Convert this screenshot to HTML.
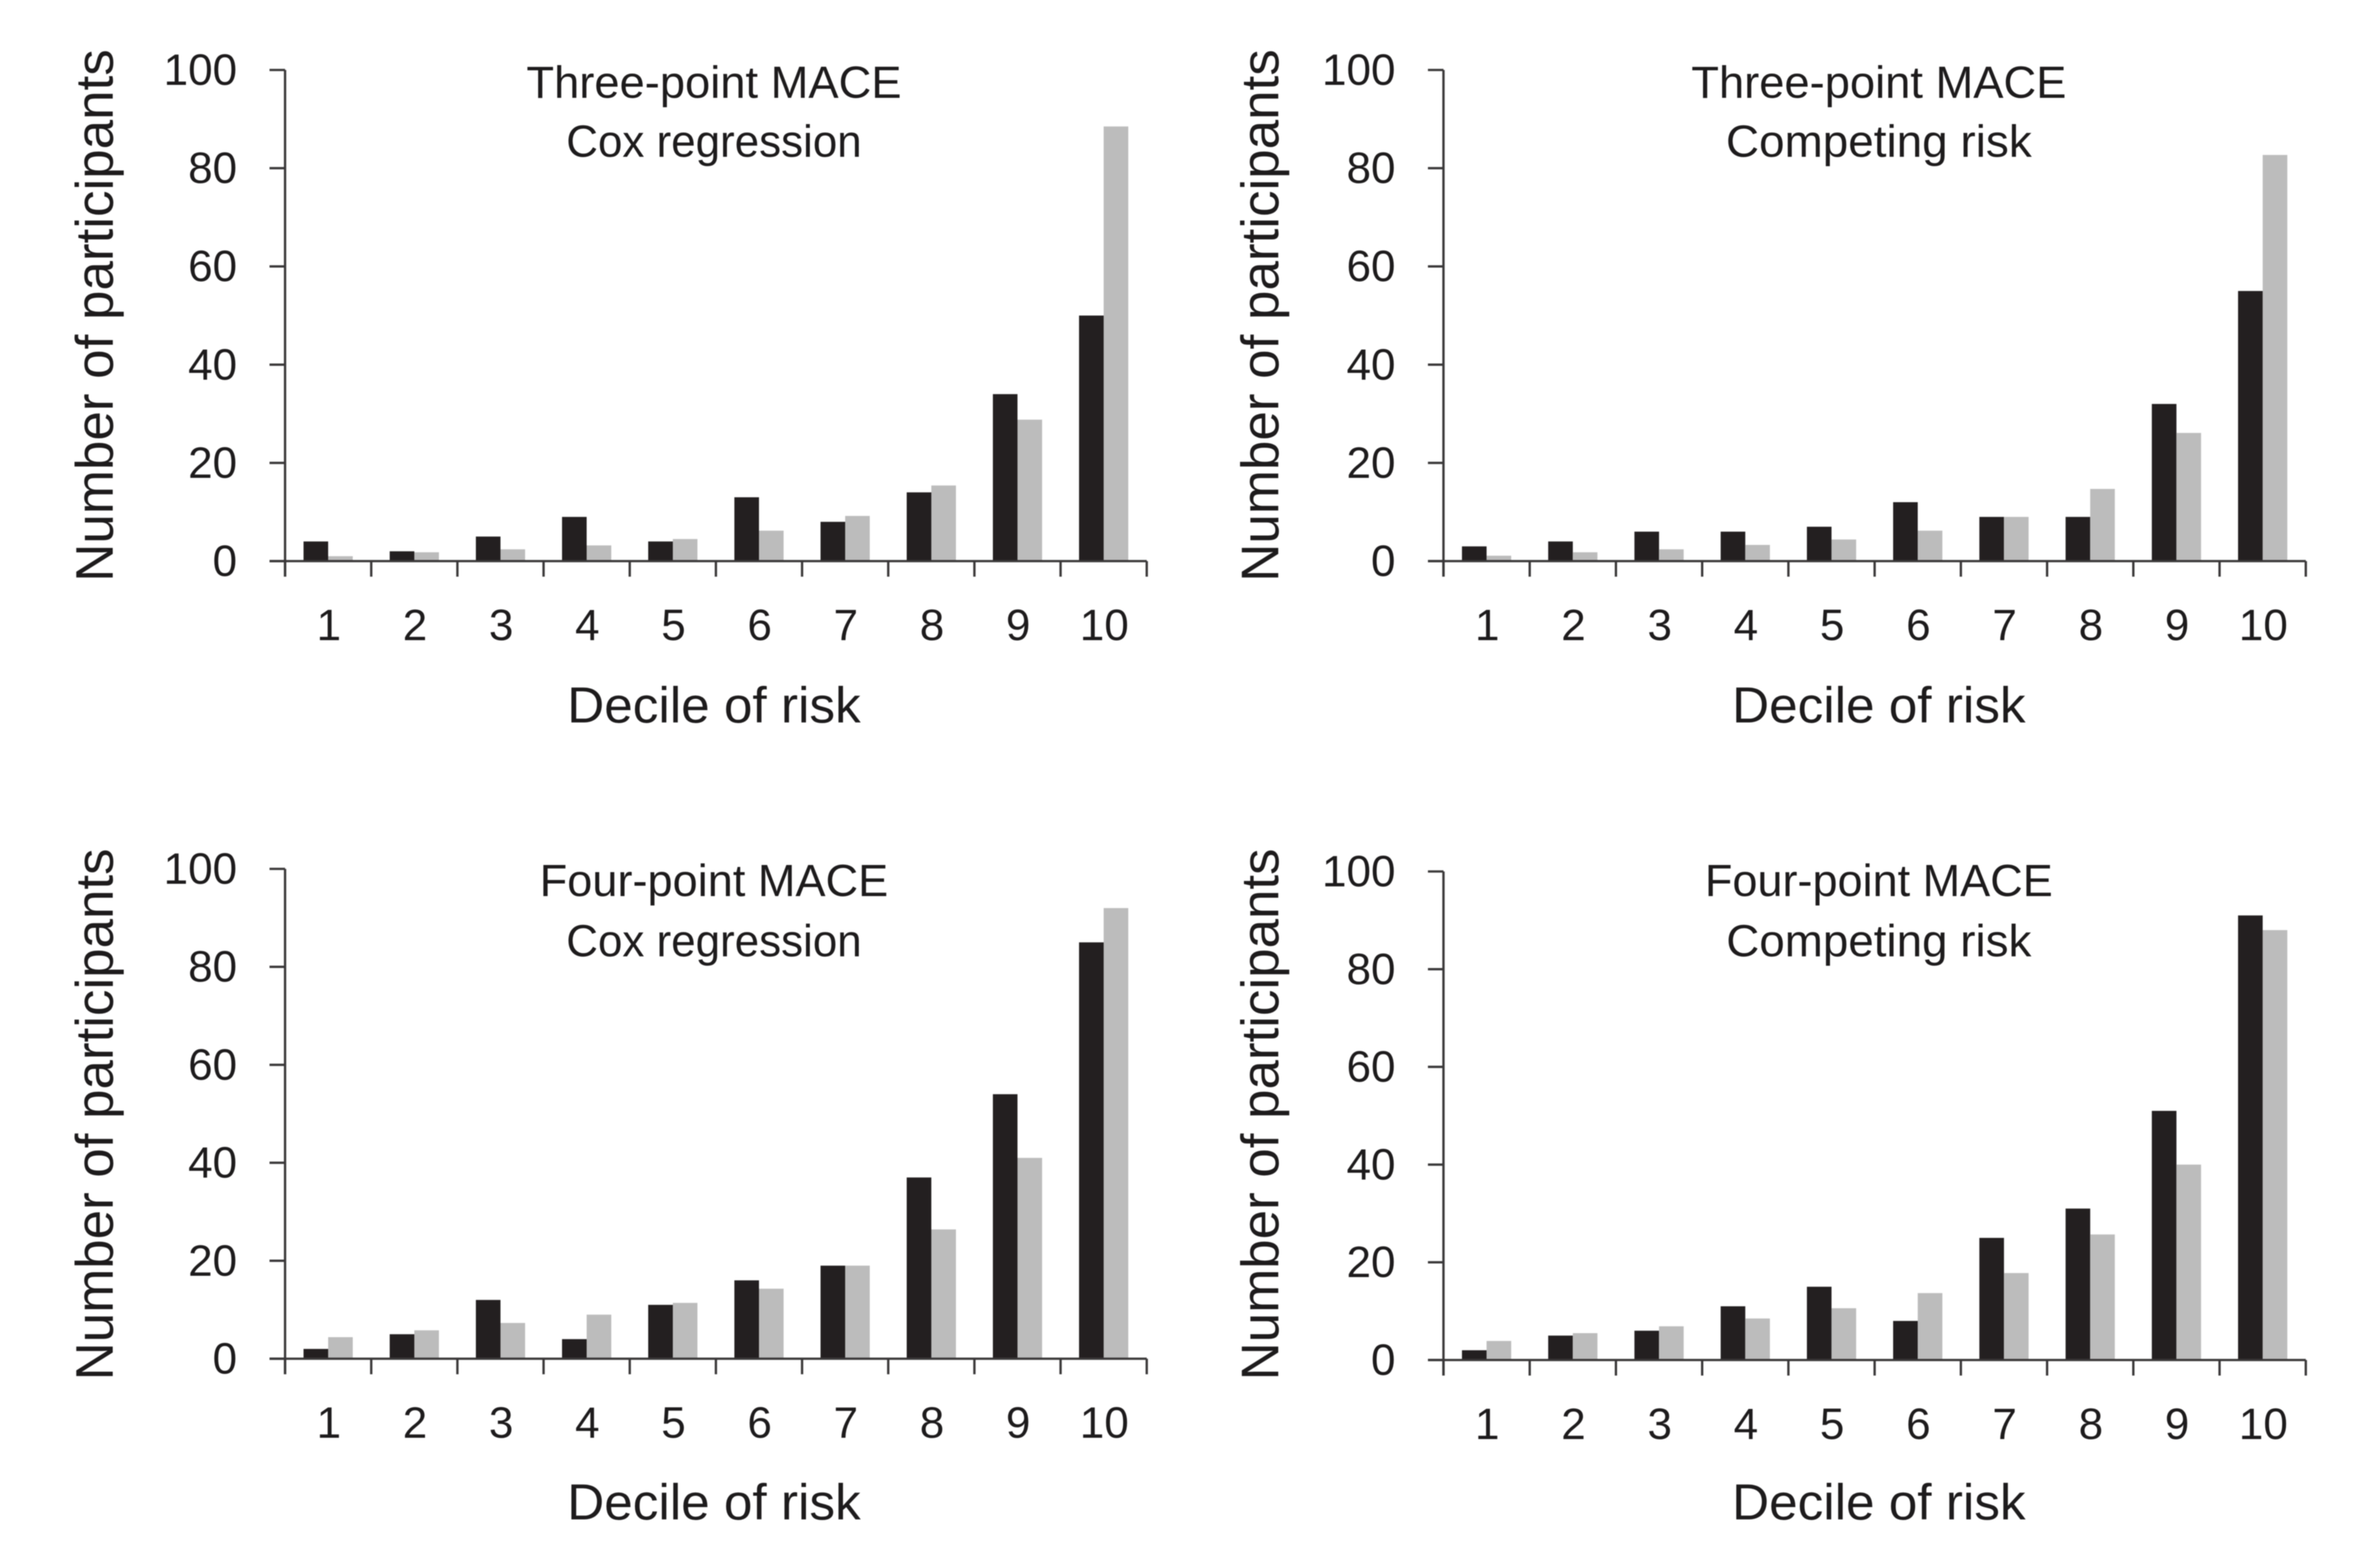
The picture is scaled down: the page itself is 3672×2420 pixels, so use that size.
<!DOCTYPE html>
<html lang="en">
<head>
<meta charset="utf-8">
<title>Participants by decile of risk</title>
<style>
html,body{margin:0;padding:0;background:#fff;width:3672px;height:2420px;overflow:hidden}
svg{display:block;filter:blur(0.8px)}
text{font-family:"Liberation Sans",sans-serif;fill:#1d1b1c}
</style>
</head>
<body>
<svg id="chart" xmlns="http://www.w3.org/2000/svg" width="3672" height="2420" viewBox="0 0 3672 2420"></svg>
<script>
const categories = ['1','2','3','4','5','6','7','8','9','10'];
const yTickValues = [0,20,40,60,80,100];
const threeCoxObserved = [4,2,5,9,4,13,8,14,34,50];
const threeCoxPredicted = [1,1.8,2.4,3.2,4.5,6.2,9.2,15.4,28.8,88.5];
const threeCompObserved = [3,4,6,6,7,12,9,9,32,55];
const threeCompPredicted = [1.1,1.8,2.4,3.3,4.4,6.2,9,14.7,26.1,82.7];
const fourCoxObserved = [2,5,12,4,11,16,19,37,54,85];
const fourCoxPredicted = [4.4,5.8,7.3,9,11.4,14.3,19,26.4,41,92];
const fourCompObserved = [2,5,6,11,15,8,25,31,51,91];
const fourCompPredicted = [3.9,5.5,6.9,8.5,10.6,13.7,17.8,25.7,40,88];

const panels = [
  {id:'three-point-cox', observed:threeCoxObserved, predicted:threeCoxPredicted,
   left:440, right:1770, top:108, bottom:866, titleX:1102, yTitleX:174, yTitleY:487, yTitleLen:822,
   line1:'Three-point MACE', line1Len:579, line1Y:151, line2:'Cox regression', line2Len:456, line2Y:242, xTitleY:1115},
  {id:'three-point-competing', observed:threeCompObserved, predicted:threeCompPredicted,
   left:2228, right:3559, top:108, bottom:866, titleX:2900, yTitleX:1973, yTitleY:487, yTitleLen:822,
   line1:'Three-point MACE', line1Len:579, line1Y:151, line2:'Competing risk', line2Len:472, line2Y:242, xTitleY:1115},
  {id:'four-point-cox', observed:fourCoxObserved, predicted:fourCoxPredicted,
   left:440, right:1770, top:1341, bottom:2097, titleX:1102, yTitleX:174, yTitleY:1720, yTitleLen:821,
   line1:'Four-point MACE', line1Len:538, line1Y:1383, line2:'Cox regression', line2Len:456, line2Y:1476, xTitleY:2345},
  {id:'four-point-competing', observed:fourCompObserved, predicted:fourCompPredicted,
   left:2228, right:3559, top:1345, bottom:2099, titleX:2900, yTitleX:1973, yTitleY:1720, yTitleLen:821,
   line1:'Four-point MACE', line1Len:537, line1Y:1383, line2:'Competing risk', line2Len:471, line2Y:1476, xTitleY:2345}
];

const SVG_NS = 'http://www.w3.org/2000/svg';
const root = document.getElementById('chart');
const BAR_W = 38, TICK_LEN = 24, AXIS_COLOR = '#3a3839', AXIS_W = 3.6;

function make(tag, attrs, parent, text) {
  const node = document.createElementNS(SVG_NS, tag);
  for (const k in attrs) node.setAttribute(k, attrs[k]);
  if (text !== undefined) node.textContent = text;
  parent.appendChild(node);
  return node;
}
function yScale(p, v) { return p.bottom - (v / 100) * (p.bottom - p.top); }
function xStep(p) { return (p.right - p.left) / categories.length; }
function xCenter(p, i) { return p.left + xStep(p) * (i + 0.5); }

panels.forEach(function (p) {
  const g = make('g', {}, root);
  
  

  categories.forEach(function (c, i) {
    const cx = xCenter(p, i);
    const yo = yScale(p, p.observed[i]);
    const b1 = make('rect', {x: cx - BAR_W, y: yo, width: BAR_W, height: p.bottom - yo, fill: '#231f20'}, g);
    
    
    const yp = yScale(p, p.predicted[i]);
    const b2 = make('rect', {x: cx, y: yp, width: BAR_W, height: p.bottom - yp, fill: '#bcbcbc'}, g);
    
    
  });

  const yAxis = make('line', {x1: p.left, x2: p.left, y1: p.top, y2: p.bottom + TICK_LEN, stroke: AXIS_COLOR, 'stroke-width': AXIS_W}, g);
  
  
  const xAxis = make('line', {x1: p.left - TICK_LEN, x2: p.right, y1: p.bottom, y2: p.bottom, stroke: AXIS_COLOR, 'stroke-width': AXIS_W}, g);
  
  

  yTickValues.forEach(function (v) {
    const y = yScale(p, v);
    const t = make('line', {x1: p.left - TICK_LEN, x2: p.left, y1: y, y2: y, stroke: AXIS_COLOR, 'stroke-width': AXIS_W}, g);
    
    
    const l = make('text', {x: p.left - 74, y: y + 23, 'text-anchor': 'end', 'font-size': 68}, g, String(v));
    
    
  });

  for (let i = 0; i <= categories.length; i++) {
    const x = p.left + xStep(p) * i;
    const t = make('line', {x1: x, x2: x, y1: p.bottom, y2: p.bottom + TICK_LEN, stroke: AXIS_COLOR, 'stroke-width': AXIS_W}, g);
    
    
  }
  categories.forEach(function (c, i) {
    const l = make('text', {x: xCenter(p, i) + 1, y: p.bottom + 122, 'text-anchor': 'middle', 'font-size': 68}, g, c);
    
    
  });

  const xt = make('text', {x: p.titleX, y: p.xTitleY, 'text-anchor': 'middle', 'font-size': 78, textLength: 453, lengthAdjust: 'spacingAndGlyphs'}, g, 'Decile of risk');
  
  

  const yt = make('text', {x: 0, y: 0, transform: 'translate(' + p.yTitleX + ',' + p.yTitleY + ') rotate(-90)', 'text-anchor': 'middle', 'font-size': 82, textLength: p.yTitleLen, lengthAdjust: 'spacingAndGlyphs'}, g, 'Number of participants');
  
  

  const t1 = make('text', {x: p.titleX, y: p.line1Y, 'text-anchor': 'middle', 'font-size': 70, textLength: p.line1Len, lengthAdjust: 'spacingAndGlyphs'}, g, p.line1);
  
  
  const t2 = make('text', {x: p.titleX, y: p.line2Y, 'text-anchor': 'middle', 'font-size': 70, textLength: p.line2Len, lengthAdjust: 'spacingAndGlyphs'}, g, p.line2);
  
  
});
</script>
</body>
</html>
